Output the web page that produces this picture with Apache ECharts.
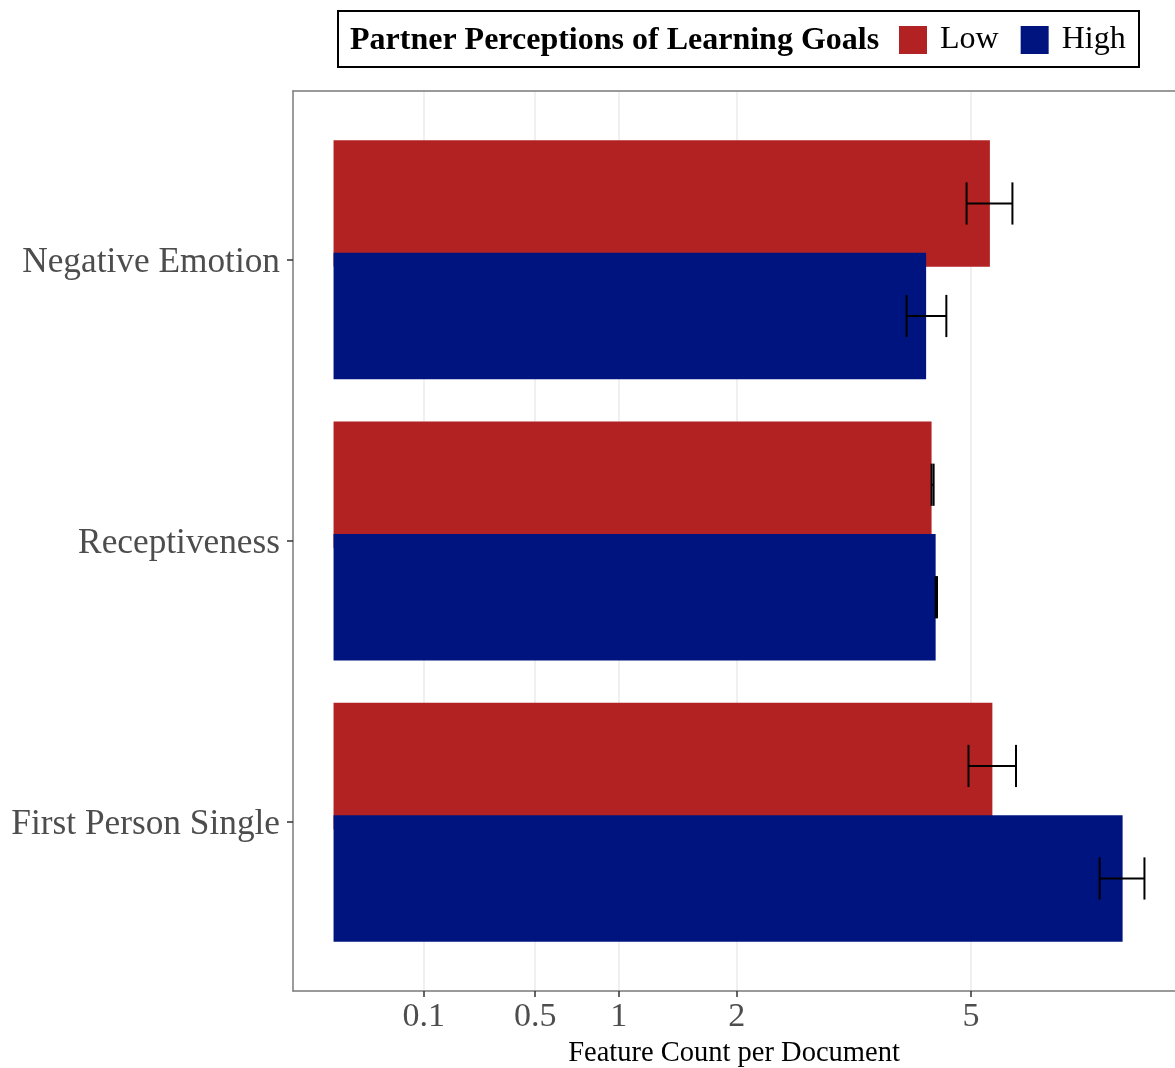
<!DOCTYPE html>
<html>
<head>
<meta charset="utf-8">
<script src="https://cdn.jsdelivr.net/npm/echarts@6/dist/echarts.min.js"></script>
<style>
html,body{margin:0;padding:0;background:#fff;}
#chart{width:1175px;height:1068px;}
</style>
</head>
<body>
<div id="chart"></div>
<script>
// ---- data (feature counts per document) ----
const categories = ['First Person Single', 'Receptiveness', 'Negative Emotion'];
const lowMean     = [5.34, 4.40, 5.30];
const lowCILower  = [4.96, 4.40, 4.93];
const lowCIUpper  = [5.73, 4.43, 5.67];
const highMean    = [7.66, 4.46, 4.32];
const highCILower = [7.22, 4.46, 4.04];
const highCIUpper = [8.09, 4.48, 4.62];
const xTickValues = [0.1, 0.5, 1, 2, 5];
const xTickLabels = ['0.1', '0.5', '1', '2', '5'];
const legendTitle = 'Partner Perceptions of Learning Goals';
const xAxisTitle = 'Feature Count per Document';

// ---- square-root scale helpers (ggplot-style 5% expansion) ----
const sq = v => Math.sqrt(v);
const maxT = sq(Math.max(...lowCIUpper, ...highCIUpper));
const pad = 0.05 * maxT;
const xMin = -pad, xMaxFull = maxT + pad;
// the panel runs past the right edge of the picture: only part of it is visible
const PANEL_LEFT = 293, PANEL_FULL_W = 892, VISIBLE_W = 1175 - PANEL_LEFT;
const xMax = xMin + (xMaxFull - xMin) * VISIBLE_W / PANEL_FULL_W;

const FONT = '"Liberation Serif", "Times New Roman", serif';
const RED = '#B22222', BLUE = '#001480';
const BORDER = { color: '#7a7a7a', width: 1.5 };

function errSeries(name, lo, hi, shift) {
  return {
    name: name,
    type: 'custom',
    xAxisIndex: 1, yAxisIndex: 1,
    z: 5,
    encode: { x: [0, 1], y: 2 },
    data: categories.map((c, i) => [sq(lo[i]), sq(hi[i]), i]),
    renderItem: function (params, api) {
      const band = api.size([0, 1])[1];
      const a = api.coord([api.value(0), api.value(2)]);
      const b = api.coord([api.value(1), api.value(2)]);
      const y = a[1] + shift * band;
      const h = 0.075 * band;
      const st = { stroke: '#000', lineWidth: 2 };
      return {
        type: 'group',
        children: [
          { type: 'line', shape: { x1: a[0], y1: y, x2: b[0], y2: y }, style: st },
          { type: 'line', shape: { x1: a[0], y1: y - h, x2: a[0], y2: y + h }, style: st },
          { type: 'line', shape: { x1: b[0], y1: y - h, x2: b[0], y2: y + h }, style: st }
        ]
      };
    }
  };
}

const chart = echarts.init(document.getElementById('chart'));
chart.setOption({
  animation: false,
  backgroundColor: '#fff',
  textStyle: { fontFamily: FONT },
  grid: [
    { left: PANEL_LEFT, top: 91, right: 0, height: 900, outerBoundsMode: 'none', containLabel: false },
    { left: PANEL_LEFT, top: 119.1, right: 0, height: 843.75, outerBoundsMode: 'none', containLabel: false }
  ],
  xAxis: [
    {
      gridIndex: 0, type: 'value', min: xMin, max: xMax, position: 'bottom',
      axisLine: { show: true, onZero: false, lineStyle: BORDER },
      axisTick: { show: true, length: 6, customValues: xTickValues.map(sq), lineStyle: { color: '#333', width: 1.5 } },
      axisLabel: {
        customValues: xTickValues.map(sq),
        formatter: function (v) {
          let best = 0, d = Infinity;
          xTickValues.forEach((t, i) => { const dd = Math.abs(sq(t) - v); if (dd < d) { d = dd; best = i; } });
          return xTickLabels[best];
        },
        fontSize: 34, color: '#4d4d4d', fontFamily: FONT, margin: 9
      },
      splitLine: { show: true, lineStyle: { color: '#ebebeb', width: 1.5 } },
      name: xAxisTitle, nameLocation: 'middle', nameGap: 41,
      nameTextStyle: { fontSize: 28.5, color: '#000', fontFamily: FONT }
    },
    { gridIndex: 1, type: 'value', min: xMin, max: xMax, show: false },
    {
      gridIndex: 0, type: 'value', min: xMin, max: xMax, position: 'top',
      axisLine: { show: true, onZero: false, lineStyle: BORDER },
      axisTick: { show: false }, axisLabel: { show: false }, splitLine: { show: false }
    }
  ],
  yAxis: [
    {
      gridIndex: 0, type: 'value', min: 0, max: 1, position: 'left',
      axisLine: { show: true, onZero: false, lineStyle: BORDER },
      axisTick: { show: false }, axisLabel: { show: false }, splitLine: { show: false }
    },
    {
      gridIndex: 1, type: 'category', data: categories, position: 'left',
      axisLine: { show: false, onZero: false },
      axisTick: { show: true, alignWithLabel: true, length: 6, lineStyle: { color: '#333', width: 1.5 } },
      axisLabel: { fontSize: 35.3, color: '#4d4d4d', fontFamily: FONT, margin: 13, verticalAlign: 'top', lineHeight: 6 },
      splitLine: { show: false }
    }
  ],
  legend: {
    data: ['Low', 'High'],
    left: 894, top: 19,
    itemWidth: 28, itemHeight: 28, itemGap: 22,
    icon: 'rect', selectedMode: false,
    textStyle: { fontSize: 32, color: '#000', fontFamily: FONT, padding: [0, 0, 0, 8] }
  },
  graphic: [
    { type: 'rect', left: 337, top: 10, z: -1, shape: { width: 801, height: 56 }, style: { fill: '#fff', stroke: '#000', lineWidth: 2 } },
    { type: 'text', left: 350, top: 25, style: { text: legendTitle, font: 'bold 32px ' + FONT, fill: '#000' } }
  ],
  series: [
    {
      name: 'Low', type: 'bar', xAxisIndex: 1, yAxisIndex: 1,
      barWidth: '45%', barGap: '-11.1%',
      itemStyle: { color: RED },
      data: lowMean.map(sq)
    },
    {
      name: 'High', type: 'bar', xAxisIndex: 1, yAxisIndex: 1,
      barWidth: '45%', barGap: '-11.1%',
      itemStyle: { color: BLUE },
      data: highMean.map(sq)
    },
    errSeries('Low CI', lowCILower, lowCIUpper, -0.2),
    errSeries('High CI', highCILower, highCIUpper, 0.2)
  ]
});
</script>
</body>
</html>
